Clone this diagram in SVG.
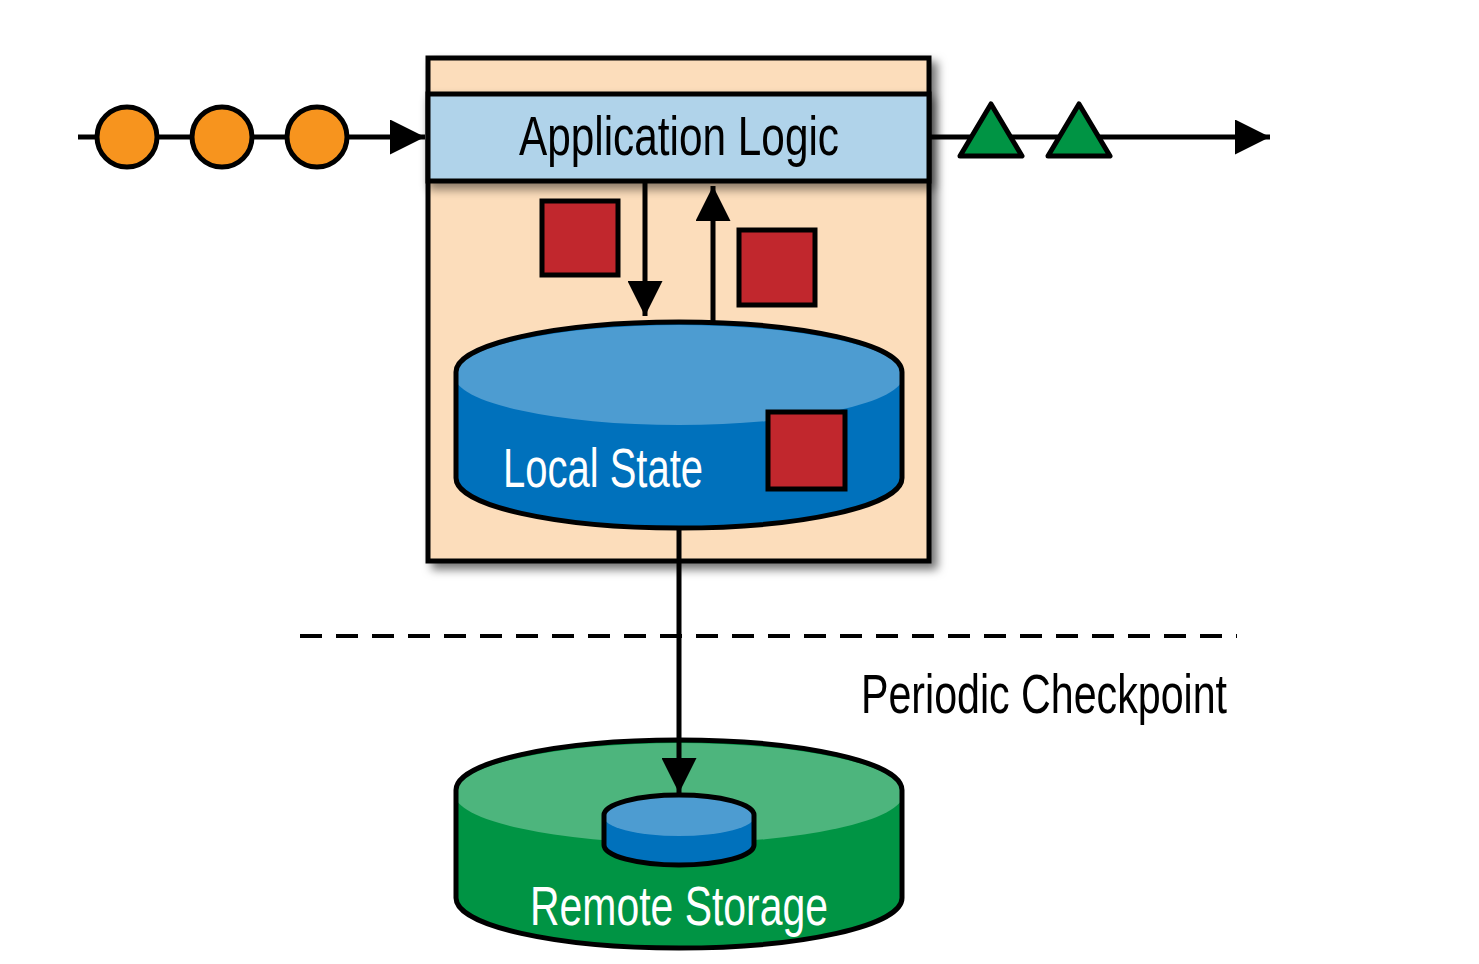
<svg xmlns="http://www.w3.org/2000/svg" width="1479" height="964" viewBox="0 0 1479 964">
<style>
.ln{stroke:#000;stroke-width:5;fill:none}
.ol{stroke:#000;stroke-width:5}
.lbl{font-family:"Liberation Sans Narrow","Liberation Sans",Arial,sans-serif;font-size:56px}
.red{fill:#C1272D;stroke:#000;stroke-width:5}
</style>
<defs>
<filter id="sh" x="-10%" y="-10%" width="130%" height="130%">
<feDropShadow dx="6" dy="6" stdDeviation="5" flood-color="#000" flood-opacity="0.55"/>
</filter>
<filter id="sh2" x="-10%" y="-20%" width="130%" height="160%">
<feDropShadow dx="3" dy="6" stdDeviation="5" flood-color="#000" flood-opacity="0.45"/>
</filter>
<marker id="ah" viewBox="0 0 10 10" refX="10" refY="5" markerWidth="7" markerHeight="7" markerUnits="strokeWidth" orient="auto">
<path d="M0,0 L10,5 L0,10 Z" fill="#000"/>
</marker>
<clipPath id="lsClip"><path d="M456,372 A223,50 0 0 1 902,372 L902,478 A223,50 0 0 1 456,478 Z"/></clipPath>
<clipPath id="rsClip"><path d="M456,790 A223,50 0 0 1 902,790 L902,898 A223,50 0 0 1 456,898 Z"/></clipPath>
<clipPath id="scClip"><path d="M604,815 A75,20 0 0 1 754,815 L754,845 A75,20 0 0 1 604,845 Z"/></clipPath>
</defs>
<rect width="1479" height="964" fill="#fff"/>

<g id="operator">
<rect x="428" y="58" width="501" height="503" fill="#FCDDBB" class="ol" filter="url(#sh)"/>
</g>
<g id="app-logic">
<rect x="428" y="94" width="501" height="87" fill="#B0D3EA" class="ol" filter="url(#sh2)"/>
<text class="lbl" x="519" y="155" textLength="320" lengthAdjust="spacingAndGlyphs" fill="#000">Application Logic</text>
</g>

<g id="input-events">
<circle cx="127" cy="137" r="30" fill="#F7941E" class="ol"/>
<circle cx="222" cy="137" r="30" fill="#F7941E" class="ol"/>
<circle cx="317" cy="137" r="30" fill="#F7941E" class="ol"/>
</g>
<g id="output-events">
<polygon points="991,104 1022,156 960,156" fill="#009444" class="ol" stroke-linejoin="round"/>
<polygon points="1079,104 1110,156 1048,156" fill="#009444" class="ol" stroke-linejoin="round"/>
</g>

<g id="state-items">
<rect x="542" y="201" width="76" height="74" class="red"/>
<rect x="739" y="230" width="76" height="75" class="red"/>
</g>

<g id="local-state">
<path d="M456,372 A223,50 0 0 1 902,372 L902,478 A223,50 0 0 1 456,478 Z" fill="#0071BC"/>
<ellipse cx="679" cy="375" rx="225" ry="50" fill="#4D9CD1" clip-path="url(#lsClip)"/>
<path d="M456,372 A223,50 0 0 1 902,372 L902,478 A223,50 0 0 1 456,478 Z" class="ln"/>
<text class="lbl" x="503" y="487" textLength="200" lengthAdjust="spacingAndGlyphs" fill="#fff">Local State</text>
<rect x="768" y="412" width="77" height="77" class="red"/>
</g>

<g id="checkpoint-label">
<text class="lbl" x="861" y="713" textLength="366" lengthAdjust="spacingAndGlyphs" fill="#000">Periodic Checkpoint</text>
</g>

<g id="remote-storage">
<path d="M456,790 A223,50 0 0 1 902,790 L902,898 A223,50 0 0 1 456,898 Z" fill="#009444"/>
<ellipse cx="679" cy="793" rx="225" ry="50" fill="#4DB57D" clip-path="url(#rsClip)"/>
<path d="M456,790 A223,50 0 0 1 902,790 L902,898 A223,50 0 0 1 456,898 Z" class="ln"/>
<path d="M604,815 A75,20 0 0 1 754,815 L754,845 A75,20 0 0 1 604,845 Z" fill="#0071BC"/>
<ellipse cx="679" cy="816" rx="76" ry="20" fill="#4D9CD1" clip-path="url(#scClip)"/>
<path d="M604,815 A75,20 0 0 1 754,815 L754,845 A75,20 0 0 1 604,845 Z" class="ln"/>
<text class="lbl" x="530" y="925" textLength="298" lengthAdjust="spacingAndGlyphs" fill="#fff">Remote Storage</text>
</g>

<g id="connectors">
<line class="ln" x1="78" y1="137" x2="97" y2="137"/>
<line class="ln" x1="157" y1="137" x2="192" y2="137"/>
<line class="ln" x1="252" y1="137" x2="287" y2="137"/>
<line class="ln" x1="347" y1="137" x2="425" y2="137" marker-end="url(#ah)"/>
<line class="ln" x1="931" y1="137" x2="972" y2="137"/>
<line class="ln" x1="1010" y1="137" x2="1060" y2="137"/>
<line class="ln" x1="1098" y1="137" x2="1270" y2="137" marker-end="url(#ah)"/>
<line class="ln" x1="645" y1="181" x2="645" y2="316" marker-end="url(#ah)"/>
<line class="ln" x1="713" y1="322" x2="713" y2="186" marker-end="url(#ah)"/>
<line class="ln" x1="679" y1="528" x2="679" y2="793" marker-end="url(#ah)"/>
<line x1="300" y1="636" x2="1237" y2="636" stroke="#000" stroke-width="4" stroke-dasharray="22,14"/>
</g>
</svg>
